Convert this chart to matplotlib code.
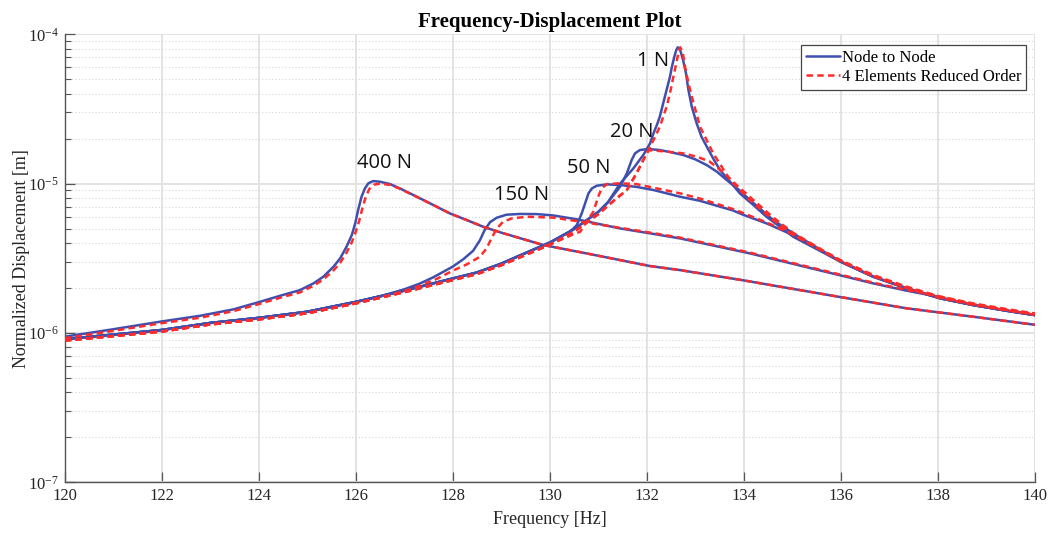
import numpy as np
import matplotlib
matplotlib.use("Agg")
import matplotlib.pyplot as plt
from matplotlib import ticker

plt.rcParams['font.family'] = ['Liberation Serif', 'DejaVu Serif']
plt.rcParams['mathtext.fontset'] = 'custom'
plt.rcParams['mathtext.rm'] = 'Liberation Serif'
plt.rcParams['mathtext.it'] = 'Liberation Serif:italic'

# ---- data (displacement in units of 1e-6 m) ----
f_1N_node = [120, 121, 122, 123, 124, 125, 126, 127, 127.5, 128, 128.5, 129, 129.5, 130, 130.5, 131, 131.2,
             131.45, 131.72, 131.93, 132.07, 132.14, 132.21, 132.27, 132.34, 132.41, 132.48, 132.52, 132.57,
             132.61, 132.64, 132.69, 132.75, 132.81, 132.86, 132.93, 133.03, 133.13, 133.24, 133.37, 133.51,
             133.72, 133.92, 134.2, 134.47, 134.75, 135.02, 136, 136.67, 137.36, 138.05, 138.73, 139.42, 140]
d_1N_node = [0.910, 0.975, 1.047, 1.167, 1.262, 1.387, 1.614, 1.919, 2.109, 2.317, 2.541, 2.911, 3.428, 4.027,
             4.955, 6.457, 7.499, 10.0, 12.59, 15.56, 18.62, 21.73, 24.72, 28.05, 34.5, 42.4, 52.0, 60.7, 70.8,
             78.5, 81.8, 78.5, 67.3, 54.8, 42.4, 32.7, 25.35, 20.6, 17.66, 14.76, 12.33, 10.30, 8.61, 7.19,
             6.00, 5.14, 4.41, 3.00, 2.382, 1.991, 1.706, 1.538, 1.409, 1.318]

f_1N_red = [120, 121, 122, 123, 124, 125, 126, 127, 127.5, 128, 128.5, 129, 129.5, 130, 130.5, 131, 131.3,
            131.59, 131.79, 132.0, 132.14, 132.27, 132.41, 132.48, 132.55, 132.61, 132.66, 132.69, 132.74,
            132.79, 132.86, 132.93, 133.1, 133.37, 133.72, 134.13, 134.61, 135.02, 136, 136.67, 137.36, 138.05,
            138.73, 139.42, 140]
d_1N_red = [0.89, 0.953, 1.023, 1.14, 1.233, 1.355, 1.578, 1.875, 2.06, 2.26, 2.48, 2.84, 3.33, 3.90, 4.75,
            6.24, 7.59, 9.06, 11.72, 15.96, 19.59, 24.04, 32.7, 40.3, 52.0, 64.0, 76.6, 81.8, 76.6, 60.7, 47.0,
            38.2, 24.04, 15.96, 10.57, 7.76, 5.70, 4.53, 3.07, 2.443, 2.042, 1.750, 1.578, 1.445, 1.352]

f_20N_node = [120, 121, 122, 123, 124, 125, 126, 127, 127.5, 128, 128.5, 129, 129.5, 130, 130.5, 131, 131.2,
              131.45, 131.59, 131.69, 131.76, 131.86, 132.03, 132.27, 132.5, 132.75, 133.0, 133.24, 133.45,
              133.65, 133.9, 134.13, 134.37, 134.61, 135.02, 136, 136.67, 137.36, 138.05, 138.73, 139.42, 140]
d_20N_node = [0.910, 0.975, 1.047, 1.167, 1.262, 1.387, 1.614, 1.919, 2.109, 2.317, 2.541, 2.911, 3.428, 4.027,
              4.955, 6.457, 7.499, 9.53, 11.72, 14.39, 15.96, 16.79, 17.06, 16.79, 16.22, 15.56, 14.55, 13.30,
              12.0, 10.57, 9.10, 7.76, 6.65, 5.70, 4.645, 3.00, 2.382, 1.991, 1.706, 1.538, 1.409, 1.318]

f_20N_red = [120, 121, 122, 123, 124, 125, 126, 127, 127.5, 128, 128.5, 129, 129.5, 130, 130.5, 131, 131.3,
             131.59, 131.79, 132.0, 132.05, 132.4, 132.75, 133.05, 133.3, 133.6, 133.85, 134.13, 134.6, 135.02,
             136, 136.67, 137.36, 138.05, 138.73, 139.42, 140]
d_20N_red = [0.89, 0.953, 1.023, 1.14, 1.233, 1.355, 1.578, 1.875, 2.06, 2.26, 2.48, 2.84, 3.33, 3.90, 4.75,
             6.24, 7.59, 9.06, 11.72, 15.96, 16.75, 16.41, 15.96, 15.10, 14.03, 11.75, 9.80, 8.13, 5.96, 4.68,
             3.04, 2.415, 2.018, 1.73, 1.56, 1.428, 1.337]

f_50N_node = [120, 121, 122, 123, 124, 125, 126, 127, 127.5, 128, 128.5, 129, 129.5, 130, 130.42, 130.56,
              130.66, 130.73, 130.80, 130.87, 130.97, 131.18, 131.45, 131.8, 132.14, 132.69, 133.1, 133.78, 134.0,
              134.47, 135.02, 136, 136.67, 137.36, 138.05, 138.73, 139.42, 140]
d_50N_node = [0.910, 0.975, 1.047, 1.167, 1.262, 1.387, 1.614, 1.919, 2.109, 2.317, 2.541, 2.911, 3.428, 4.027,
              4.764, 5.284, 6.32, 7.379, 8.61, 9.29, 9.68, 9.89, 9.79, 9.50, 9.06, 8.17, 7.67, 6.61, 6.17, 5.42,
              4.52, 3.00, 2.382, 1.991, 1.706, 1.538, 1.409, 1.318]

f_50N_red = [120, 121, 122, 123, 124, 125, 126, 127, 127.5, 128, 128.5, 129, 129.5, 130, 130.5, 130.63, 130.76,
             130.9, 131.0, 131.07, 131.18, 131.45, 131.79, 132.2, 132.69, 133.1, 133.78, 134.47, 135.02, 136,
             136.67, 137.36, 138.05, 138.73, 139.42, 140]
d_50N_red = [0.89, 0.953, 1.023, 1.14, 1.233, 1.355, 1.578, 1.875, 2.06, 2.26, 2.48, 2.84, 3.33, 3.90, 4.60,
             4.764, 5.56, 6.49, 8.17, 9.29, 9.93, 10.05, 9.93, 9.30, 8.61, 7.94, 6.76, 5.50, 4.57, 3.02, 2.40,
             2.00, 1.715, 1.545, 1.416, 1.324]

f_150N_node = [120, 121, 122, 123, 124, 125, 126, 126.5, 127, 127.32, 127.6, 128, 128.22, 128.42, 128.56, 128.66,
               128.77, 128.91, 129.11, 129.39, 129.73, 130.07, 130.56, 131.45, 132.07, 132.69, 134.13, 136,
               136.67, 137.36, 137.9, 138.73, 139.42, 140]
d_150N_node = [0.910, 0.975, 1.047, 1.167, 1.262, 1.387, 1.614, 1.758, 1.96, 2.14, 2.36, 2.78, 3.12, 3.548,
               4.169, 4.898, 5.521, 5.916, 6.194, 6.266, 6.252, 6.124, 5.768, 5.012, 4.645, 4.295, 3.41, 2.427,
               2.148, 1.919, 1.778, 1.538, 1.409, 1.318]

f_150N_red = [120, 121, 122, 123, 124, 125, 126, 126.5, 127, 127.32, 127.67, 128.01, 128.29, 128.56, 128.70,
              128.80, 128.91, 129.04, 129.22, 129.53, 130.07, 130.42, 131.45, 132.07, 132.69, 134.13, 136, 136.67,
              137.36, 137.9, 138.73, 139.42, 140]
d_150N_red = [0.89, 0.953, 1.023, 1.14, 1.233, 1.355, 1.578, 1.72, 1.905, 2.07, 2.30, 2.62, 2.88, 3.236,
              3.69, 4.31, 5.01, 5.56, 5.85, 6.00, 5.92, 5.70, 5.06, 4.70, 4.35, 3.45, 2.455, 2.17, 1.94, 1.80,
              1.56, 1.428, 1.337]

f_400N_node = [120, 121, 122, 122.79, 123.48, 124.03, 124.44, 124.85, 125.13, 125.33, 125.54, 125.68, 125.81,
               125.92, 125.99, 126.05, 126.12, 126.19, 126.26, 126.36, 126.5, 126.71, 126.91, 127.26, 127.6,
               127.94, 128.29, 128.63, 128.98, 129.39, 129.87, 130.76, 132.07, 132.69, 134, 136, 137.36, 138.73,
               140]
d_400N_node = [0.944, 1.059, 1.194, 1.303, 1.439, 1.618, 1.774, 1.936, 2.148, 2.377, 2.773, 3.162, 3.776, 4.529,
               5.420, 6.653, 8.17, 9.29, 10.05, 10.40, 10.30, 9.93, 9.29, 8.17, 7.194, 6.32, 5.70, 5.14, 4.72,
               4.31, 3.88, 3.41, 2.805, 2.636, 2.249, 1.738, 1.462, 1.285, 1.135]

f_400N_red = [120, 121, 122, 122.79, 123.48, 124.03, 124.44, 124.85, 125.13, 125.33, 125.54, 125.68, 125.81,
              125.92, 126.0, 126.07, 126.14, 126.21, 126.28, 126.38, 126.5, 126.71, 126.91, 127.26, 127.6,
              127.94, 128.29, 128.63, 128.98, 129.39, 129.87, 130.76, 132.07, 132.69, 134, 136, 137.36, 138.73,
              140]
d_400N_red = [0.922, 1.033, 1.163, 1.265, 1.40, 1.57, 1.72, 1.87, 2.07, 2.28, 2.62, 2.95, 3.45, 4.05, 4.75,
              5.60, 6.90, 8.20, 9.20, 9.85, 10.0, 9.80, 9.25, 8.15, 7.19, 6.32, 5.70, 5.14, 4.72, 4.31, 3.88,
              3.41, 2.805, 2.636, 2.249, 1.738, 1.462, 1.285, 1.135]

force_labels = ['1 N', '20 N', '50 N', '150 N', '400 N']
label_freq = [132.13, 131.70, 130.81, 129.43, 126.60]
label_disp = [65.8, 22.2, 12.7, 8.4, 13.8]

x_ticks = [120, 122, 124, 126, 128, 130, 132, 134, 136, 138, 140]
unit = 1e-6

node_curves = [(f_1N_node, d_1N_node), (f_20N_node, d_20N_node), (f_50N_node, d_50N_node),
               (f_150N_node, d_150N_node), (f_400N_node, d_400N_node)]
red_curves = [(f_1N_red, d_1N_red), (f_20N_red, d_20N_red), (f_50N_red, d_50N_red),
              (f_150N_red, d_150N_red), (f_400N_red, d_400N_red)]

BLUE = '#3F4FAE'
RED = '#FF2B2B'

fig = plt.figure(figsize=(10.5, 5.33), dpi=100)
ax = fig.add_axes([64.7 / 1050, 1 - 482.3 / 533, (1034.7 - 64.7) / 1050, (482.3 - 34.3) / 533])

for i, (f, d) in enumerate(node_curves):
    ax.plot(f, np.array(d) * unit, color=BLUE, lw=1.8, solid_joinstyle='round', solid_capstyle='round',
            label='Node to Node' if i == 0 else None, zorder=3)
for i, (f, d) in enumerate(red_curves):
    ax.plot(f, np.array(d) * unit, color=RED, lw=1.8, dashes=(2.6, 1.7), dash_joinstyle='round',
            label='4 Elements Reduced Order' if i == 0 else None, zorder=4)

ax.set_yscale('log')
ax.set_xlim(120, 140)
ax.set_ylim(1e-7, 1e-4)
ax.set_xticks(x_ticks)
ax.set_xticklabels([str(t) for t in x_ticks])
ax.yaxis.set_major_locator(ticker.LogLocator(base=10, numticks=10))
ax.yaxis.set_minor_locator(ticker.LogLocator(base=10, subs=np.arange(2, 10), numticks=20))
ax.yaxis.set_major_formatter(ticker.LogFormatterMathtext())
ax.yaxis.set_minor_formatter(ticker.NullFormatter())

ax.grid(True, which='major', axis='both', color='#e3e3e3', lw=1.4, linestyle='-', zorder=0)
ax.grid(True, which='minor', axis='y', color='#d6d6d6', lw=0.8, linestyle=(0, (1, 2)), zorder=0)
ax.set_axisbelow(True)

for s in ['top', 'right']:
    ax.spines[s].set_visible(False)
for s in ['left', 'bottom']:
    ax.spines[s].set_color('#555555')
    ax.spines[s].set_linewidth(1.0)

ax.tick_params(axis='both', which='major', direction='in', length=7, width=0.9, color='#555555',
               labelsize=12, labelcolor='#262626', pad=4)
ax.tick_params(axis='y', which='minor', direction='in', length=4.5, width=0.8, color='#555555')
ax.tick_params(axis='x', which='minor', bottom=False)

ax.set_xlabel('Frequency [Hz]', fontsize=13, color='#262626', labelpad=5)
ax.set_ylabel('Normalized Displacement [m]', fontsize=13, color='#262626', labelpad=-1)
ax.set_title('Frequency-Displacement Plot', fontsize=15, fontweight='bold', color='#000000', pad=5.5)

for lab, fx, dy in zip(force_labels, label_freq, label_disp):
    ax.text(fx, dy * unit, lab, ha='center', va='center', fontsize=14.5,
            family=['Open Sans', 'DejaVu Sans'], color='#111111', zorder=5)

leg = ax.legend(loc='upper right', bbox_to_anchor=(1026 / 1050, 1 - 45 / 533),
                bbox_transform=fig.transFigure, frameon=True, fancybox=False, framealpha=1,
                edgecolor='#444444', fontsize=12, handlelength=2.0, handletextpad=0.12,
                borderpad=0.3, labelspacing=0.2, borderaxespad=0)
leg.get_frame().set_linewidth(0.9)

fig.savefig('out.png', dpi=100)
